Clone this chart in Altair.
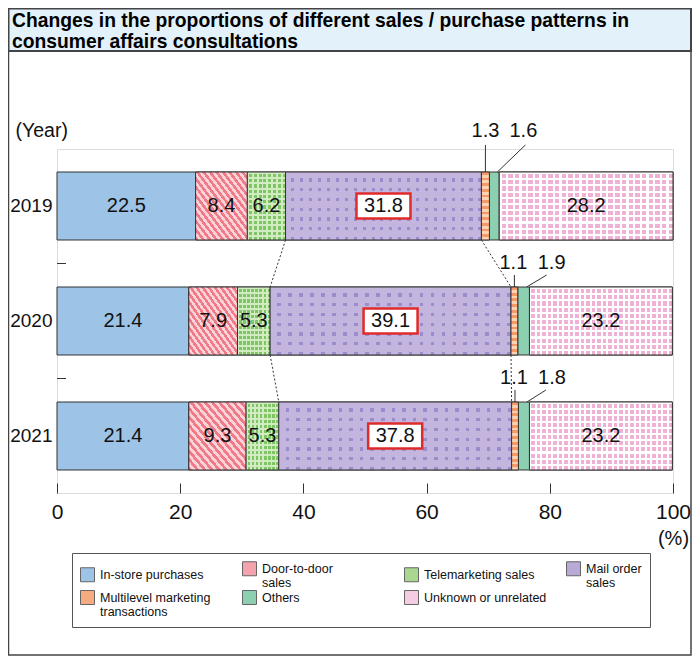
import altair as alt
import pandas as pd

# ---------------- data ----------------
years = ["2019", "2020", "2021"]
categories = [
    "In-store purchases",
    "Door-to-door sales",
    "Telemarketing sales",
    "Mail order sales",
    "Multilevel marketing transactions",
    "Others",
    "Unknown or unrelated",
]
in_store = [22.5, 21.4, 21.4]
door_to_door = [8.4, 7.9, 9.3]
telemarketing = [6.2, 5.3, 5.3]
mail_order = [31.8, 39.1, 37.8]
multilevel = [1.3, 1.1, 1.1]
others = [1.6, 1.9, 1.8]
unknown = [28.2, 23.2, 23.2]
colors = ["#9dc3e6", "#f4a3ae", "#a9d78f", "#b9a9d6", "#f7ab80", "#8dcfb1", "#f5cde3"]

TITLE = ("Changes in the proportions of different sales / purchase patterns in\n"
         "consumer affairs consultations")

series = [in_store, door_to_door, telemarketing, mail_order, multilevel, others, unknown]

rows = []
for i, yr in enumerate(years):
    cum = 0.0
    for cat, vals in zip(categories, series):
        v = vals[i]
        rows.append(dict(year=yr, category=cat, value=v, start=cum, end=cum + v,
                         mid=cum + v / 2, label=f"{v:.1f}"))
        cum += v
df = pd.DataFrame(rows)

mail = df[df.category == "Mail order sales"].reset_index(drop=True)
conn_rows = []
for i in range(len(years) - 1):
    conn_rows.append(dict(year=years[i], year2=years[i + 1],
                          x=mail.start[i], x2=mail.start[i + 1]))
    conn_rows.append(dict(year=years[i], year2=years[i + 1],
                          x=mail.end[i], x2=mail.end[i + 1]))
conn = pd.DataFrame(conn_rows)
gaps = pd.DataFrame({"year": years[:-1]})

# ---------------- styling ----------------
NUM = "Liberation Sans, Arial, sans-serif"
SANS = "Liberation Sans, Arial, sans-serif"
W, H = 616, 344
CLEAR = "rgba(255,255,255,0)"

x_scale = alt.Scale(domain=[0, 100], nice=False, zero=True)
y_scale = alt.Scale(domain=years, paddingInner=0.4087, paddingOuter=0.2)

x_axis = alt.Axis(values=[0, 20, 40, 60, 80, 100], offset=-10, tickSize=10,
                  tickColor="#333", tickWidth=1, domain=False, grid=False,
                  labelFont=NUM, labelFontSize=21, labelColor="#111",
                  labelPadding=8, labelFlush=False,
                  title="(%)", titleX=W, titleY=55, titleAlign="center",
                  titleBaseline="middle", titleFont=NUM, titleFontSize=20,
                  titleFontWeight="normal", titleColor="#111")
y_axis = alt.Axis(title="(Year)", titleAngle=0, titleX=-42, titleY=-19,
                  titleAlign="left", titleBaseline="middle", titleFont=SANS,
                  titleFontSize=19.5, titleFontWeight="normal", titleColor="#111",
                  labelFont=NUM, labelFontSize=19, labelColor="#111",
                  labelPadding=5, ticks=False, domain=False, grid=False)


def X(field):
    return alt.X(f"{field}:Q", scale=x_scale, axis=x_axis)


def Y(bp=0.5, field="year"):
    return alt.Y(f"{field}:N", scale=y_scale, axis=y_axis, bandPosition=bp)


def stripes(n, c1, c2, frac=0.5, **coords):
    stops = []
    for k in range(n):
        a, b, e = k / n, (k + frac) / n, (k + 1) / n
        stops += [alt.GradientStop(offset=a, color=c1), alt.GradientStop(offset=b, color=c1),
                  alt.GradientStop(offset=b, color=c2), alt.GradientStop(offset=e, color=c2)]
    return alt.Gradient(gradient="linear", stops=stops, **coords)


legend = alt.Legend(
    orient="none", legendX=15, legendY=404, columns=4, direction="horizontal",
    title=None, symbolType="square", symbolSize=196, symbolStrokeColor="#666",
    symbolStrokeWidth=1, symbolOpacity=1, labelFont=SANS, labelFontSize=12.5,
    labelColor="#111", labelOffset=5, labelLimit=300, columnPadding=17,
    rowPadding=-5, padding=8, strokeColor="#555", fillColor="white",
    gridAlign="all",
    labelExpr=("datum.label == 'Door-to-door sales' ? ['Door-to-door', 'sales'] : "
               "datum.label == 'Mail order sales' ? ['Mail order', 'sales'] : "
               "datum.label == 'Multilevel marketing transactions' ? "
               "['Multilevel marketing', 'transactions'] : datum.label"),
)

one = pd.DataFrame({"t": [TITLE]})

# ---------------- decorations ----------------
outer = alt.Chart(one).mark_rect(fillOpacity=0, stroke="#444", strokeWidth=1.5).encode(
    x=alt.value(-48.5), x2=alt.value(634), y=alt.value(-140.5), y2=alt.value(506))
title_box = alt.Chart(one).mark_rect(fill="#e3f1fb", stroke="#444", strokeWidth=2).encode(
    x=alt.value(-48.5), x2=alt.value(634), y=alt.value(-140.5), y2=alt.value(-98))
title_text = alt.Chart(one).mark_text(
    align="left", baseline="alphabetic", font=SANS, fontSize=19.3, fontWeight="bold",
    lineBreak="\n", lineHeight=21, color="#000").encode(
    x=alt.value(-45), y=alt.value(-122), text="t:N")

# small ticks on the left frame, between the year rows
year_ticks = alt.Chart(gaps).mark_rule(color="#333", strokeWidth=1, yOffset=23.5).encode(
    y=Y(1), x=alt.value(0), x2=alt.value(9))

# ---------------- bars ----------------
bars = alt.Chart(df).mark_bar(stroke="#333", strokeWidth=1).encode(
    x=X("start"), x2=alt.X2("end"), y=Y(),
    color=alt.Color("category:N", scale=alt.Scale(domain=categories, range=colors),
                    legend=legend),
)


def seg(cat):
    return alt.Chart(df).transform_filter(alt.datum.category == cat)


def seg_bar(cat, fill, stroke=False):
    kw = dict(stroke="#333", strokeWidth=1) if stroke else dict(strokeWidth=0)
    return seg(cat).mark_bar(fill=fill, **kw).encode(x=X("start"), x2=alt.X2("end"), y=Y())


def dot_grid(cat, base, cover, ncol, nrow, frac):
    return [
        seg_bar(cat, base),
        seg_bar(cat, stripes(nrow, cover, CLEAR, frac=frac, x1=0, y1=0, x2=0, y2=1)),
        seg_bar(cat, stripes(ncol, cover, CLEAR, frac=frac, x1=0, y1=0, x2=1, y2=0), True),
    ]


textures = []
textures.append(seg_bar("Door-to-door sales",
                        stripes(16, "#ef7a88", "#fbd3d8", x1=0, y1=1, x2=1, y2=0), True))
textures += dot_grid("Telemarketing sales", "#7fc465", "#d2ecc1", 8, 13, 0.38)
textures += dot_grid("Mail order sales", "#9b8dcc", "#c3b5dd", 22, 7, 0.66)
textures.append(seg_bar("Multilevel marketing transactions",
                        stripes(12, "#f59a66", "#fcd2b4", x1=0, y1=0, x2=0, y2=1), True))
textures += dot_grid("Unknown or unrelated", "#efb2d4", "#ffffff", 26, 11, 0.34)

connectors = alt.Chart(conn).mark_rule(strokeDash=[2, 2], color="#333", strokeWidth=1).encode(
    x=X("x"), x2=alt.X2("x2"), y=Y(1), y2=alt.Y2("year2:N", bandPosition=0))

big = ["In-store purchases", "Door-to-door sales", "Telemarketing sales",
       "Unknown or unrelated"]
big_labels = alt.Chart(df).transform_filter(
    alt.FieldOneOfPredicate(field="category", oneOf=big)).mark_text(
    font=NUM, fontSize=20, color="#111", baseline="middle").encode(
    x=X("mid"), y=Y(), text="label:N")

BOX = "M-1,-0.463L1,-0.463L1,0.463L-1,0.463Z"
mail_box = seg("Mail order sales").mark_point(
    shape=BOX, size=2916, filled=True, fill="white", stroke="#e02b2b",
    strokeWidth=2.5, opacity=1).encode(x=X("mid"), y=Y())
mail_labels = seg("Mail order sales").mark_text(
    font=NUM, fontSize=20, color="#111", baseline="middle").encode(
    x=X("mid"), y=Y(), text="label:N")

layers = [outer, title_box, title_text, year_ticks, bars] + textures + [
    connectors, big_labels, mail_box, mail_labels]

small_cfg = {
    "2019": dict(dy=-41, L=27, mdx=0, odx=29, o0=3, o1=31),
    "2020": dict(dy=-24, L=12, mdx=-1, odx=28, o0=3, o1=23),
    "2021": dict(dy=-24, L=12, mdx=-1, odx=28, o0=3, o1=22),
}
for yr, c in small_cfg.items():
    m_src = alt.Chart(df).transform_filter(
        (alt.datum.year == yr) & (alt.datum.category == "Multilevel marketing transactions"))
    o_src = alt.Chart(df).transform_filter(
        (alt.datum.year == yr) & (alt.datum.category == "Others"))
    layers.append(m_src.mark_text(font=NUM, fontSize=20, color="#111", baseline="middle",
                                  dy=c["dy"], dx=c["mdx"]).encode(
        x=X("mid"), y=Y(0), text="label:N"))
    layers.append(o_src.mark_text(font=NUM, fontSize=20, color="#111", baseline="middle",
                                  dy=c["dy"], dx=c["odx"]).encode(
        x=X("mid"), y=Y(0), text="label:N"))
    layers.append(m_src.mark_rule(color="#333", strokeWidth=1, y2Offset=-c["L"]).encode(
        x=X("mid"), y=Y(0), y2=alt.Y2("year:N", bandPosition=0)))
    layers.append(o_src.mark_rule(color="#333", strokeWidth=1, xOffset=c["o0"],
                                  x2Offset=c["o1"], y2Offset=-c["L"]).encode(
        x=X("mid"), x2=alt.X2("mid"), y=Y(0), y2=alt.Y2("year:N", bandPosition=0)))

chart = alt.layer(*layers).properties(
    width=W, height=H,
    padding={"left": 49, "top": 141, "right": 19, "bottom": 165},
    autosize=alt.AutoSizeParams(type="none"),
).configure_view(stroke="#444", strokeWidth=1.5).configure(background="white")

chart.save("out.html", embed_options={"renderer": "svg", "actions": False})
